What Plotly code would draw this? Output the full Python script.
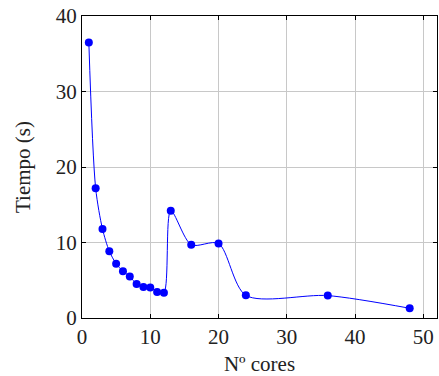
import plotly.graph_objects as go

cores = [1, 2, 3, 4, 5, 6, 7, 8, 9, 10, 11, 12, 13, 16, 20, 24, 36, 48]
tiempo = [36.5, 17.2, 11.8, 8.85, 7.2, 6.2, 5.5, 4.5, 4.1, 4.05, 3.45, 3.35,
          14.2, 9.7, 9.87, 3.0, 2.97, 1.29]

x_ticks = [0, 10, 20, 30, 40, 50]
y_ticks = [0, 10, 20, 30, 40]

FONT = "Liberation Serif, serif"
FS = 21

fig = go.Figure()
fig.add_trace(go.Scatter(
    x=cores, y=tiempo, mode="lines+markers",
    line=dict(color="#0000ff", width=1, shape="spline", smoothing=0.8),
    marker=dict(color="#0000ff", size=8),
    showlegend=False,
))

axis_common = dict(
    showgrid=True, gridcolor="#c8c8c8", gridwidth=1,
    showline=True, linecolor="#000000", linewidth=1, mirror="ticks",
    ticks="inside", ticklen=4, tickcolor="#000000",
    zeroline=False,
    tickfont=dict(family=FONT, size=FS, color="#222222"),
)

fig.update_layout(
    width=439, height=376,
    margin=dict(l=82, r=2, t=16, b=58),
    paper_bgcolor="white", plot_bgcolor="white",
    font=dict(family=FONT, size=FS, color="#222222"),
    xaxis=dict(range=[0, 52], tickvals=x_ticks, ticktext=[str(v) for v in x_ticks],
               title=dict(text="Nº cores", font=dict(family=FONT, size=FS), standoff=9),
               **axis_common),
    yaxis=dict(range=[0, 40], tickvals=y_ticks, ticktext=[str(v) for v in y_ticks],
               title=dict(text="Tiempo (s)", font=dict(family=FONT, size=FS), standoff=19),
               **axis_common),
)

fig.write_html("out.html")
